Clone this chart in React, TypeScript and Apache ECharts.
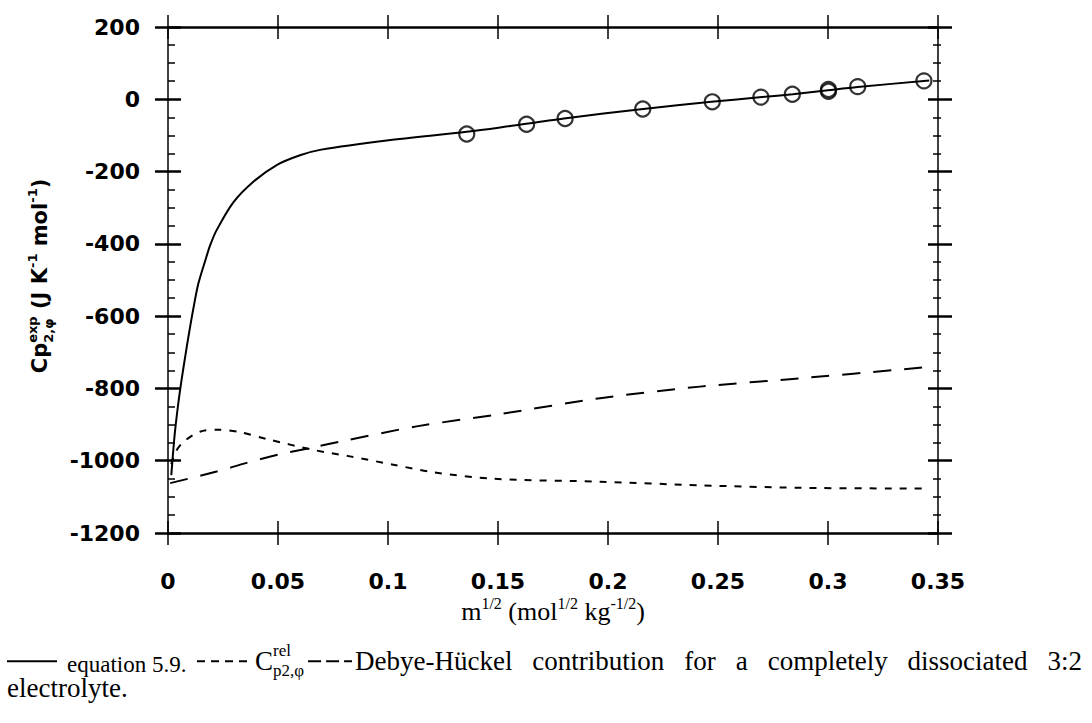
import React, { useEffect, useRef } from "react";
import * as echarts from "echarts";

// ---- axis ranges ----
const X_MIN = 0;
const X_MAX = 0.35;
const X_STEP = 0.05;
const Y_MIN = -1200;
const Y_MAX = 200;
const Y_STEP = 200;

// ---- equation 5.9 (solid) ----
const eqX = [0.0015, 0.003, 0.0045, 0.0062, 0.008, 0.0092, 0.0115, 0.0138, 0.017, 0.0191, 0.0221, 0.0297, 0.0388, 0.0494, 0.06, 0.0691, 0.0994, 0.1358, 0.151, 0.18, 0.216, 0.247, 0.27, 0.284, 0.3, 0.3135, 0.346];
const eqY = [-1040, -930, -850, -775, -705, -660, -580, -510, -445, -405, -362, -285, -228, -182, -155, -140, -114, -90, -78, -53, -27, -7, 6, 14, 25, 34, 52];

// ---- C rel p2,phi (short dash) ----
const relX = [0.0015, 0.0035, 0.007, 0.0145, 0.0229, 0.0327, 0.0449, 0.066, 0.0827, 0.1024, 0.1206, 0.1479, 0.1964, 0.2418, 0.2873, 0.3433];
const relY = [-1010, -975, -948, -920, -914, -921, -940, -970, -988, -1011, -1032, -1050, -1058, -1068, -1075, -1077];

// ---- Debye-Hückel contribution (long dash) ----
const dhX = [0.001, 0.0221, 0.0357, 0.0509, 0.066, 0.08, 0.113, 0.151, 0.1964, 0.2418, 0.2873, 0.3433];
const dhY = [-1062, -1030, -1006, -982, -963, -945, -905, -871, -827, -795, -772, -742];

// ---- experimental points (circles) ----
const expX = [0.1358, 0.163, 0.1805, 0.2158, 0.2474, 0.2695, 0.2838, 0.3002, 0.3002, 0.3135, 0.3436];
const expY = [-96, -69, -53, -27, -7, 6, 14, 22, 27, 35, 51];

// ---- texts ----
const captionLine1Words = ["Debye-Hückel", "contribution", "for", "a", "completely", "dissociated", "3:2"];
const captionLine2 = "electrolyte.";

const W = 1092;
const H = 723;
const GRID = { left: 168, right: 154, top: 27, bottom: 190 };

let ctx2d: CanvasRenderingContext2D | null = null;
function tw(text: string, size: number, family: string, weight: string) {
  if (!ctx2d) ctx2d = document.createElement("canvas").getContext("2d");
  if (!ctx2d) return text.length * size * 0.5;
  ctx2d.font = `${weight} ${size}px "${family}"`;
  return ctx2d.measureText(text).width;
}

function textEl(t: string, x: number, baseline: number, size: number, family: string, weight: string) {
  return {
    type: "text",
    x,
    y: baseline - 0.34 * size,
    silent: true,
    style: {
      text: t,
      font: `${weight} ${size}px "${family}"`,
      fill: "#000",
      align: "left",
      textAlign: "left",
      verticalAlign: "middle",
      textVerticalAlign: "middle",
    },
  };
}

type Sub = { t: string; size: number; dy: number };
type Run = Sub & { alt?: Sub };

function layoutRuns(runs: Run[], family: string, weight: string, x0: number, baseY: number) {
  const els: any[] = [];
  let x = x0;
  for (const r of runs) {
    let w = tw(r.t, r.size, family, weight);
    els.push(textEl(r.t, x, baseY + r.dy, r.size, family, weight));
    if (r.alt) {
      w = Math.max(w, tw(r.alt.t, r.alt.size, family, weight));
      els.push(textEl(r.alt.t, x, baseY + r.alt.dy, r.alt.size, family, weight));
    }
    x += w;
  }
  return { els, width: x - x0 };
}

function buildGraphics() {
  const els: any[] = [];

  // y axis name (rotated)
  const yFam = "DejaVu Sans";
  const yRuns: Run[] = [
    { t: "Cp", size: 21, dy: 0 },
    { t: "exp", size: 13, dy: -10, alt: { t: "2,φ", size: 13, dy: 6 } },
    { t: " (J K", size: 21, dy: 0 },
    { t: "-1", size: 13, dy: -10 },
    { t: " mol", size: 21, dy: 0 },
    { t: "-1", size: 13, dy: -10 },
    { t: ")", size: 21, dy: 0 },
  ];
  const yMeasure = layoutRuns(yRuns, yFam, "bold", 0, 0);
  const yLay = layoutRuns(yRuns, yFam, "bold", -yMeasure.width / 2, 7);
  els.push({ type: "group", x: 40, y: 276, rotation: Math.PI / 2, children: yLay.els });

  // x axis name
  const xFam = "Liberation Serif";
  const xRuns: Run[] = [
    { t: "m", size: 26, dy: 0 },
    { t: "1/2", size: 16, dy: -11 },
    { t: " (mol", size: 26, dy: 0 },
    { t: "1/2", size: 16, dy: -11 },
    { t: " kg", size: 26, dy: 0 },
    { t: "-1/2", size: 16, dy: -11 },
    { t: ")", size: 26, dy: 0 },
  ];
  const xMeasure = layoutRuns(xRuns, xFam, "normal", 0, 0);
  const cx = GRID.left + (W - GRID.left - GRID.right) / 2;
  els.push(...layoutRuns(xRuns, xFam, "normal", cx - xMeasure.width / 2, 620).els);

  // caption
  const cFam = "Liberation Serif";
  const cs = 23;
  const bs = 27;
  const base1 = 670;
  const midLine = base1 - 0.32 * bs;
  els.push({ type: "line", silent: true, shape: { x1: 7, y1: midLine, x2: 57, y2: midLine }, style: { stroke: "#000", lineWidth: 2 } });
  els.push(textEl("equation 5.9.", 67, base1 + 2, cs, cFam, "normal"));
  els.push({ type: "line", silent: true, shape: { x1: 197, y1: midLine, x2: 253, y2: midLine }, style: { stroke: "#000", lineWidth: 2, lineDash: [8, 6] } });
  const cStack = layoutRuns(
    [
      { t: "C", size: bs, dy: 0 },
      { t: "rel", size: 17, dy: -14, alt: { t: "p2,φ", size: 17, dy: 6 } },
    ],
    cFam,
    "normal",
    255,
    base1
  );
  els.push(...cStack.els);
  const dashStart = 255 + cStack.width + 4;
  els.push({ type: "line", silent: true, shape: { x1: dashStart, y1: midLine, x2: 352, y2: midLine }, style: { stroke: "#000", lineWidth: 2, lineDash: [13, 5] } });
  // justified words
  const startX = 355;
  const endX = 1082;
  const widths = captionLine1Words.map((w) => tw(w, bs, cFam, "normal"));
  const total = widths.reduce((a, b) => a + b, 0);
  const gap = (endX - startX - total) / (captionLine1Words.length - 1);
  let wx = startX;
  captionLine1Words.forEach((w, i) => {
    els.push(textEl(w, wx, base1, bs, cFam, "normal"));
    wx += widths[i] + gap;
  });
  els.push(textEl(captionLine2, 7, base1 + 27, bs, cFam, "normal"));
  return els;
}

function makeOption() {
  const xBase = { type: "value", min: X_MIN, max: X_MAX, interval: X_STEP, splitLine: { show: false } };
  const yBase = { type: "value", min: Y_MIN, max: Y_MAX, interval: Y_STEP, splitLine: { show: false } };
  const labelFont = { fontFamily: "DejaVu Sans", fontWeight: "bold", fontSize: 22, color: "#000" };
  const thick = { color: "#000", width: 2.5 };
  const thin = { color: "#000", width: 1.5 };
  const grids = [0, 1, 2, 3].map(() => ({ ...GRID, containLabel: false }));
  const plain = (v: number) => String(v);

  return {
    animation: false,
    backgroundColor: "#fff",
    grid: grids,
    xAxis: [
      { ...xBase, gridIndex: 0, position: "bottom", axisLine: { show: true, onZero: false, lineStyle: thick }, axisTick: { show: true, inside: false, length: 12, lineStyle: thin }, axisLabel: { show: true, margin: 37, formatter: plain, ...labelFont } },
      { ...xBase, gridIndex: 1, position: "top", axisLine: { show: true, onZero: false, lineStyle: thick }, axisTick: { show: true, inside: true, length: 12, lineStyle: thin }, axisLabel: { show: false } },
      { ...xBase, gridIndex: 2, position: "bottom", axisLine: { show: false, onZero: false }, axisTick: { show: true, inside: true, length: 12, lineStyle: thin }, axisLabel: { show: false } },
      { ...xBase, gridIndex: 3, position: "top", axisLine: { show: false, onZero: false }, axisTick: { show: true, inside: false, length: 12, lineStyle: thin }, axisLabel: { show: false } },
    ],
    yAxis: [
      { ...yBase, gridIndex: 0, position: "left", axisLine: { show: true, onZero: false, lineStyle: thin }, axisTick: { show: true, inside: false, length: 13, lineStyle: thick }, axisLabel: { show: true, margin: 28, formatter: plain, ...labelFont } },
      { ...yBase, gridIndex: 1, position: "right", axisLine: { show: true, onZero: false, lineStyle: thin }, axisTick: { show: true, inside: true, length: 10, lineStyle: thick }, minorTick: { show: true, splitNumber: 4, length: 5, lineStyle: { color: "#000", width: 1.5 } }, axisLabel: { show: false } },
      { ...yBase, gridIndex: 2, position: "left", axisLine: { show: false, onZero: false }, axisTick: { show: true, inside: true, length: 13, lineStyle: thick }, minorTick: { show: true, splitNumber: 4, length: 7, lineStyle: { color: "#000", width: 1.5 } }, axisLabel: { show: false } },
      { ...yBase, gridIndex: 3, position: "right", axisLine: { show: false, onZero: false }, axisTick: { show: true, inside: false, length: 14, lineStyle: thick }, minorTick: { show: true, splitNumber: 4, length: 3, lineStyle: { color: "#000", width: 1.5 } }, axisLabel: { show: false } },
    ],
    series: [
      { name: "equation 5.9", type: "line", xAxisIndex: 0, yAxisIndex: 0, data: eqX.map((x, i) => [x, eqY[i]]), symbol: "none", showSymbol: false, smooth: 0.3, lineStyle: { color: "#000", width: 2 } },
      { name: "C rel", type: "line", xAxisIndex: 0, yAxisIndex: 0, data: relX.map((x, i) => [x, relY[i]]), symbol: "none", showSymbol: false, smooth: 0.3, lineStyle: { color: "#000", width: 2, type: [7, 8] } },
      { name: "Debye-Hückel", type: "line", xAxisIndex: 0, yAxisIndex: 0, data: dhX.map((x, i) => [x, dhY[i]]), symbol: "none", showSymbol: false, smooth: 0.3, lineStyle: { color: "#000", width: 2, type: [18, 13] } },
      { name: "experimental", type: "scatter", xAxisIndex: 0, yAxisIndex: 0, data: expX.map((x, i) => [x, expY[i]]), symbol: "circle", symbolSize: 15, itemStyle: { color: "rgba(0,0,0,0)", borderColor: "#000", borderWidth: 2.2 } },
    ],
    graphic: buildGraphics(),
  };
}

export default function App() {
  const ref = useRef<HTMLDivElement>(null);
  useEffect(() => {
    if (!ref.current) return;
    const chart = echarts.init(ref.current, undefined, { renderer: "svg" });
    chart.setOption(makeOption() as any);
    return () => chart.dispose();
  }, []);
  return <div ref={ref} style={{ position: "fixed", left: 0, top: 0, width: W, height: H, background: "#fff" }} />;
}
